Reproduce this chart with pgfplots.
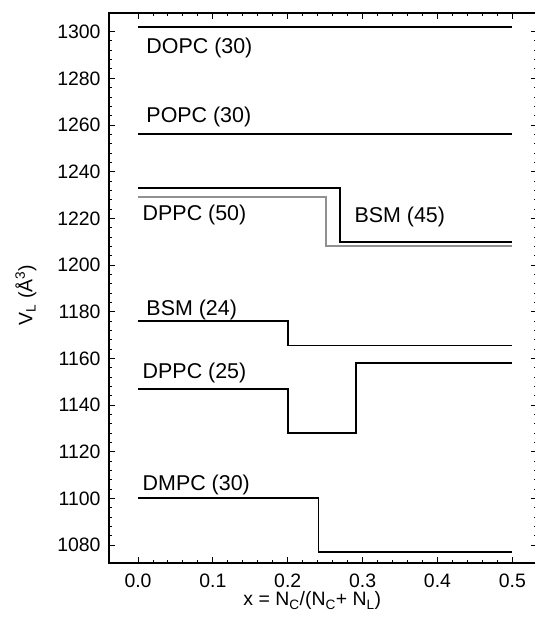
\documentclass[border=0pt]{standalone}
\usepackage{fontspec}
\setmainfont{Liberation Sans}
\usepackage{pgfplots}
\pgfplotsset{compat=1.18}
\definecolor{grayline}{RGB}{145,145,145}
\begin{document}
\begin{tikzpicture}
\begin{axis}[
  scale only axis,
  width=428bp, height=550bp,
  xmin=-0.0388, xmax=0.533,
  ymin=1072.3, ymax=1308,
  xtick={0,0.1,0.2,0.3,0.4,0.5},
  xticklabels={0.0,0.1,0.2,0.3,0.4,0.5},
  ytick={1080,1100,...,1300},
  minor x tick num=4,
  minor y tick num=4,
  tick align=inside,
  major tick length=6bp,
  minor tick length=3.5bp,
  axis line style={line width=1.2bp},
  every tick/.style={black, line width=1bp},
  /pgf/number format/assume math mode=true,
  /pgf/number format/1000 sep={},
  tick label style={font=\fontsize{19.5}{22}\selectfont},
  yticklabel style={xshift=-5bp},
  xticklabel style={yshift=-7bp},
  xlabel={x = N\textsubscript{C}/(N\textsubscript{C}+ N\textsubscript{L})},
  ylabel={V\textsubscript{L} (Å\textsuperscript{3})},
  label style={font=\fontsize{19.5}{22}\selectfont},
  xlabel style={at={(axis description cs:0.475,-0.078)}, anchor=base},
  ylabel style={at={(axis description cs:-0.194,0.487)}, anchor=center, rotate=0},
  clip=false,
]
\addplot[black, line width=1.8bp] coordinates {(0,1302) (0.5,1302)};
\addplot[black, line width=1.8bp] coordinates {(0,1256) (0.5,1256)};
\addplot[grayline, line width=1.8bp] coordinates {(0,1229) (0.251,1229) (0.251,1208) (0.5,1208)};
\addplot[black, line width=1.8bp] coordinates {(0,1233) (0.27,1233) (0.27,1209.8) (0.5,1209.8)};
\addplot[black, line width=1.8bp] coordinates {(0,1176) (0.2,1176) (0.2,1165.5) (0.5,1165.5)};
\addplot[black, line width=1.8bp] coordinates {(0,1147) (0.2,1147) (0.2,1128) (0.291,1128) (0.291,1158) (0.5,1158)};
\addplot[black, line width=1.8bp] coordinates {(0,1100) (0.241,1100) (0.241,1077) (0.5,1077)};
\begin{scope}[every node/.style={anchor=west, inner sep=0pt, font=\fontsize{21.5}{24}\selectfont}]
\node at (axis cs:0.011,1293) {DOPC (30)};
\node at (axis cs:0.011,1263.6) {POPC (30)};
\node at (axis cs:0.006,1221.5) {DPPC (50)};
\node at (axis cs:0.289,1220.7) {BSM (45)};
\node at (axis cs:0.011,1180.8) {BSM (24)};
\node at (axis cs:0.006,1153.8) {DPPC (25)};
\node at (axis cs:0.006,1105.8) {DMPC (30)};
\end{scope}
\end{axis}
\pgfresetboundingbox
\path[use as bounding box] ([xshift=-109bp,yshift=-55bp]current axis.south west) rectangle ([xshift=-2bp,yshift=13bp]current axis.north east);
\end{tikzpicture}
\end{document}
